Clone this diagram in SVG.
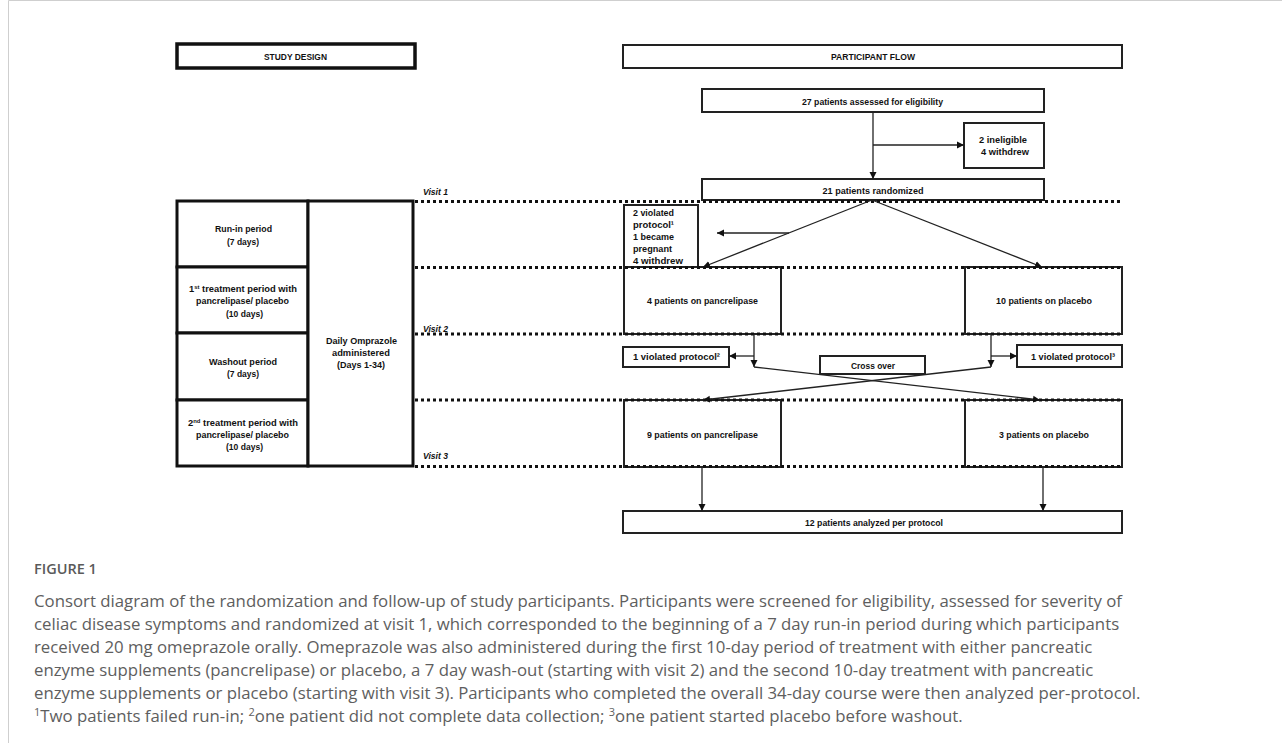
<svg xmlns="http://www.w3.org/2000/svg" width="1282" height="743" viewBox="0 0 1282 743">
<style>
.bg{fill:#fff}
.hdr{fill:#fff;stroke:#111;stroke-width:3.5}
.hdr2{fill:#fff;stroke:#222;stroke-width:2}
.sd{fill:#fff;stroke:#111;stroke-width:3}
.box{fill:#fff;stroke:#222;stroke-width:2}
.t{font-family:"Liberation Sans",Arial,sans-serif;font-weight:bold;font-size:9.5px;fill:#111}
.c{text-anchor:middle}
.v{font-family:"Liberation Sans",Arial,sans-serif;font-weight:bold;font-style:italic;font-size:9.5px;fill:#111}
.dot{stroke:#111;stroke-width:3;stroke-dasharray:3 3;fill:none}
.ln{stroke:#222;stroke-width:1.3;fill:none;marker-end:url(#ah)}
.cap{font-family:"Open Sans",Lato,sans-serif;font-size:16.8px;fill:#5e5e5e}
.fig{font-family:"Open Sans",Lato,sans-serif;font-size:14.5px;font-weight:600;fill:#5a5a5a}
</style>
<defs>
<marker id="ah" markerWidth="8" markerHeight="8" refX="7" refY="4" orient="auto" markerUnits="userSpaceOnUse">
<path d="M0,0.5 L7,4 L0,7.5 Z" fill="#111"/>
</marker>
</defs>
<rect class="bg" x="0" y="0" width="1282" height="743"/>
<g id="frame"><path d="M8.5,743 V0.5 H1282" fill="none" stroke="#cfcfcf" stroke-width="1"/></g>

<g id="study-design-header">
<rect class="hdr" x="177" y="44" width="238" height="24"/>
<text class="t c" x="295.5" y="60" textLength="63" lengthAdjust="spacingAndGlyphs">STUDY DESIGN</text>
</g>
<g id="participant-flow-header">
<rect class="hdr2" x="623" y="45" width="499" height="23"/>
<text class="t c" x="873" y="60" textLength="84" lengthAdjust="spacingAndGlyphs">PARTICIPANT FLOW</text>
</g>

<g id="run-in">
<rect class="sd" x="177" y="201" width="131" height="66"/>
<text class="t c" x="243.5" y="232" textLength="57" lengthAdjust="spacingAndGlyphs">Run-in period</text>
<text class="t c" x="243" y="245" textLength="32" lengthAdjust="spacingAndGlyphs">(7 days)</text>
</g>
<g id="treatment1">
<rect class="sd" x="177" y="267" width="131" height="66"/>
<text class="t c" x="243" y="292" textLength="108" lengthAdjust="spacingAndGlyphs">1<tspan font-size="6" dy="-3">st</tspan><tspan dy="3"> treatment period with</tspan></text>
<text class="t c" x="242.5" y="304" textLength="93" lengthAdjust="spacingAndGlyphs">pancrelipase/ placebo</text>
<text class="t c" x="244.5" y="317" textLength="37" lengthAdjust="spacingAndGlyphs">(10 days)</text>
</g>
<g id="washout">
<rect class="sd" x="177" y="333" width="131" height="67"/>
<text class="t c" x="243" y="365" textLength="68" lengthAdjust="spacingAndGlyphs">Washout period</text>
<text class="t c" x="243" y="377" textLength="32" lengthAdjust="spacingAndGlyphs">(7 days)</text>
</g>
<g id="treatment2">
<rect class="sd" x="177" y="400" width="131" height="66"/>
<text class="t c" x="243" y="426" textLength="110" lengthAdjust="spacingAndGlyphs">2<tspan font-size="6" dy="-3">nd</tspan><tspan dy="3"> treatment period with</tspan></text>
<text class="t c" x="242.5" y="438" textLength="93" lengthAdjust="spacingAndGlyphs">pancrelipase/ placebo</text>
<text class="t c" x="244.5" y="450" textLength="37" lengthAdjust="spacingAndGlyphs">(10 days)</text>
</g>
<g id="omeprazole">
<rect class="sd" x="308" y="201" width="105" height="265"/>
<text class="t c" x="361.5" y="344" textLength="71" lengthAdjust="spacingAndGlyphs">Daily Omprazole</text>
<text class="t c" x="361" y="356" textLength="58" lengthAdjust="spacingAndGlyphs">administered</text>
<text class="t c" x="361" y="368" textLength="48" lengthAdjust="spacingAndGlyphs">(Days 1-34)</text>
</g>

<g id="assessed">
<rect class="box" x="702" y="89" width="342" height="23"/>
<text class="t c" x="872.5" y="105" textLength="141" lengthAdjust="spacingAndGlyphs">27 patients assessed for eligibility</text>
</g>
<g id="excluded">
<rect class="box" x="964" y="123" width="80" height="45"/>
<text class="t c" x="1003" y="143" textLength="48" lengthAdjust="spacingAndGlyphs">2 ineligible</text>
<text class="t c" x="1005" y="155" textLength="48" lengthAdjust="spacingAndGlyphs">4 withdrew</text>
</g>
<g id="randomized">
<rect class="box" x="702" y="179" width="342" height="21"/>
<text class="t c" x="873" y="194" textLength="101" lengthAdjust="spacingAndGlyphs">21 patients randomized</text>
</g>
<g id="run-in-dropouts">
<rect class="box" x="624" y="205" width="74" height="63"/>
<text class="t" x="633" y="216" textLength="41" lengthAdjust="spacingAndGlyphs">2 violated</text>
<text class="t" x="633" y="228" textLength="41" lengthAdjust="spacingAndGlyphs">protocol¹</text>
<text class="t" x="633" y="240" textLength="41" lengthAdjust="spacingAndGlyphs">1 became</text>
<text class="t" x="633" y="252" textLength="39" lengthAdjust="spacingAndGlyphs">pregnant</text>
<text class="t" x="633" y="264" textLength="50" lengthAdjust="spacingAndGlyphs">4 withdrew</text>
</g>
<g id="pancrelipase1">
<rect class="box" x="624" y="267" width="157" height="67"/>
<text class="t c" x="702.5" y="304" textLength="111" lengthAdjust="spacingAndGlyphs">4 patients on pancrelipase</text>
</g>
<g id="placebo1">
<rect class="box" x="965" y="267" width="157" height="67"/>
<text class="t c" x="1044" y="304" textLength="96" lengthAdjust="spacingAndGlyphs">10 patients on placebo</text>
</g>
<g id="violated2">
<rect class="box" x="623" y="347" width="106" height="20"/>
<text class="t c" x="676.5" y="360" textLength="87" lengthAdjust="spacingAndGlyphs">1 violated protocol²</text>
</g>
<g id="violated3">
<rect class="box" x="1017" y="345" width="105" height="22"/>
<text class="t c" x="1073" y="360" textLength="84" lengthAdjust="spacingAndGlyphs">1 violated protocol³</text>
</g>
<g id="crossover">
<rect class="box" x="820" y="356" width="105" height="18"/>
<text class="t c" x="873" y="369" textLength="44" lengthAdjust="spacingAndGlyphs">Cross over</text>
</g>
<g id="pancrelipase2">
<rect class="box" x="624" y="400" width="157" height="67"/>
<text class="t c" x="702.5" y="438" textLength="111" lengthAdjust="spacingAndGlyphs">9 patients on pancrelipase</text>
</g>
<g id="placebo2">
<rect class="box" x="965" y="400" width="157" height="67"/>
<text class="t c" x="1044" y="438" textLength="90" lengthAdjust="spacingAndGlyphs">3 patients on placebo</text>
</g>
<g id="analyzed">
<rect class="box" x="623" y="511" width="499" height="22"/>
<text class="t c" x="874" y="526" textLength="138" lengthAdjust="spacingAndGlyphs">12 patients analyzed per protocol</text>
</g>

<g id="visits">
<path class="dot" d="M415,201.5 H1122"/>
<path class="dot" d="M415,267.5 H1122"/>
<path class="dot" d="M415,334 H1122"/>
<path class="dot" d="M415,400 H1122"/>
<path class="dot" d="M415,466.5 H1122"/>
<text class="v" x="423" y="195" textLength="25" lengthAdjust="spacingAndGlyphs">Visit 1</text>
<text class="v" x="423" y="332" textLength="25" lengthAdjust="spacingAndGlyphs">Visit 2</text>
<text class="v" x="423" y="459" textLength="25" lengthAdjust="spacingAndGlyphs">Visit 3</text>
</g>

<g id="connectors">
<path class="ln" d="M873,112 V179"/>
<path class="ln" d="M873,145 H964"/>
<path class="ln" d="M872,200 L703,267"/>
<path class="ln" d="M872,200 L1042,267"/>
<path class="ln" d="M789,233 H717"/>
<path class="ln" d="M754,334 V367"/>
<path class="ln" d="M754,356 H729"/>
<path class="ln" d="M754,367 L1040,400"/>
<path class="ln" d="M991,334 V367"/>
<path class="ln" d="M991,356 H1017"/>
<path class="ln" d="M991,367 L703,400"/>
<path class="ln" d="M702,467 V511"/>
<path class="ln" d="M1043,467 V511"/>
</g>

<g id="caption">
<text class="fig" x="34" y="574">FIGURE 1</text>
<text class="cap" x="34" y="607">Consort diagram of the randomization and follow-up of study participants. Participants were screened for eligibility, assessed for severity of</text>
<text class="cap" x="34" y="630">celiac disease symptoms and randomized at visit 1, which corresponded to the beginning of a 7 day run-in period during which participants</text>
<text class="cap" x="34" y="653">received 20 mg omeprazole orally. Omeprazole was also administered during the first 10-day period of treatment with either pancreatic</text>
<text class="cap" x="34" y="676">enzyme supplements (pancrelipase) or placebo, a 7 day wash-out (starting with visit 2) and the second 10-day treatment with pancreatic</text>
<text class="cap" x="34" y="699">enzyme supplements or placebo (starting with visit 3). Participants who completed the overall 34-day course were then analyzed per-protocol.</text>
<text class="cap" x="34" y="722"><tspan font-size="11" dy="-6">1</tspan><tspan dy="6">Two patients failed run-in; </tspan><tspan font-size="11" dy="-6">2</tspan><tspan dy="6">one patient did not complete data collection; </tspan><tspan font-size="11" dy="-6">3</tspan><tspan dy="6">one patient started placebo before washout.</tspan></text>
</g>
</svg>
